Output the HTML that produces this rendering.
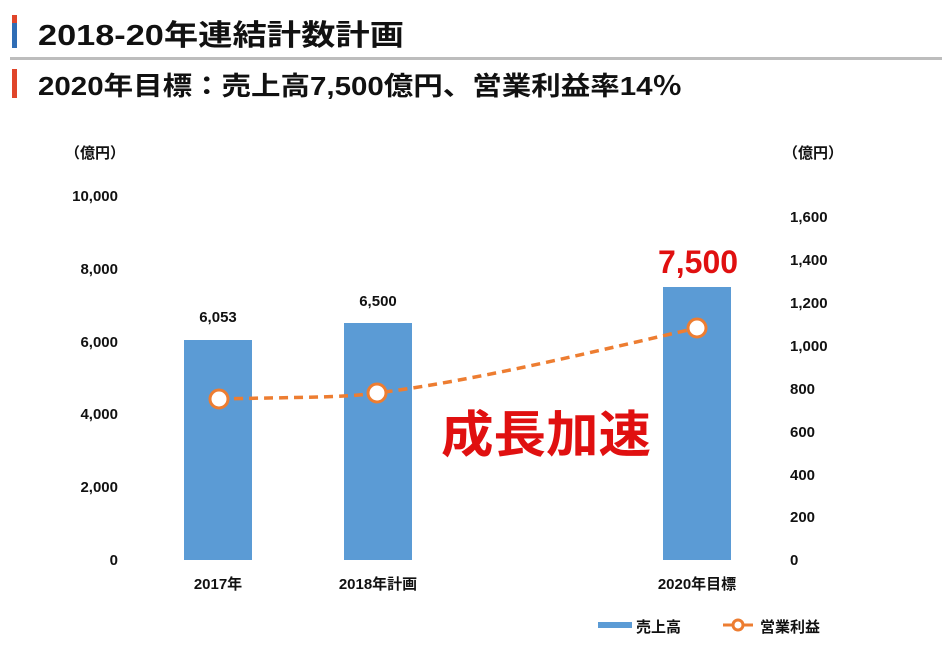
<!DOCTYPE html>
<html><head><meta charset="utf-8"><style>
body{margin:0;background:#fff;width:946px;height:652px;overflow:hidden;font-family:"Liberation Sans","Noto Sans CJK JP",sans-serif;}
svg text{font-family:"Liberation Sans","Noto Sans CJK JP",sans-serif;font-weight:bold;}
</style></head><body>
<svg width="946" height="652" viewBox="0 0 946 652" xmlns="http://www.w3.org/2000/svg">
<rect x="12" y="15" width="5" height="8" fill="#e0452a"/>
<rect x="12" y="23" width="5" height="25" fill="#2f6db5"/>
<text x="38" y="45" font-size="29" fill="#111" textLength="366" lengthAdjust="spacingAndGlyphs">2018-20年連結計数計画</text>
<rect x="10" y="57" width="932" height="3" fill="#bdbdbd"/>
<rect x="12" y="69" width="5" height="29" fill="#e0452a"/>
<text x="38" y="95" font-size="26" fill="#111" textLength="644" lengthAdjust="spacingAndGlyphs">2020年目標：売上高7,500億円、営業利益率14％</text>
<g font-size="15" fill="#111">
<text x="65" y="158">（億円）</text>
<text x="783" y="158">（億円）</text>
<g text-anchor="end">
<text x="118" y="201">10,000</text>
<text x="118" y="274">8,000</text>
<text x="118" y="347">6,000</text>
<text x="118" y="419">4,000</text>
<text x="118" y="492">2,000</text>
<text x="118" y="565">0</text>
</g>
<g text-anchor="start">
<text x="790" y="222">1,600</text>
<text x="790" y="265">1,400</text>
<text x="790" y="308">1,200</text>
<text x="790" y="351">1,000</text>
<text x="790" y="394">800</text>
<text x="790" y="437">600</text>
<text x="790" y="480">400</text>
<text x="790" y="522">200</text>
<text x="790" y="565">0</text>
</g>
<g text-anchor="middle">
<text x="218" y="589">2017年</text>
<text x="378" y="589">2018年計画</text>
<text x="697" y="589">2020年目標</text>
<text x="218" y="322">6,053</text>
<text x="378" y="306">6,500</text>
</g>
</g>
<rect x="184" y="340" width="68" height="220" fill="#5b9bd5"/>
<rect x="344" y="323" width="68" height="237" fill="#5b9bd5"/>
<rect x="663" y="287" width="68" height="273" fill="#5b9bd5"/>
<path d="M219,399 C300,397 340,398 377,393 C480,380 600,350 697,328" fill="none" stroke="#ed7d31" stroke-width="3.5" stroke-dasharray="9,6"/>
<g fill="#fff" stroke="#ed7d31" stroke-width="3">
<circle cx="219" cy="399" r="9"/><circle cx="377" cy="393" r="9"/><circle cx="697" cy="328" r="9"/>
</g>
<text x="698" y="273" font-size="32" fill="#e01010" text-anchor="middle">7,500</text>
<text x="546" y="452" font-size="50" fill="#e01010" text-anchor="middle" textLength="210" lengthAdjust="spacingAndGlyphs">成長加速</text>
<rect x="598" y="622" width="34" height="6" fill="#5b9bd5"/>
<text x="636" y="632" font-size="15" fill="#111">売上高</text>
<line x1="723" y1="625" x2="753" y2="625" stroke="#ed7d31" stroke-width="3"/>
<circle cx="738" cy="625" r="5" fill="#fff" stroke="#ed7d31" stroke-width="3"/>
<text x="760" y="632" font-size="15" fill="#111">営業利益</text>
</svg>
</body></html>
